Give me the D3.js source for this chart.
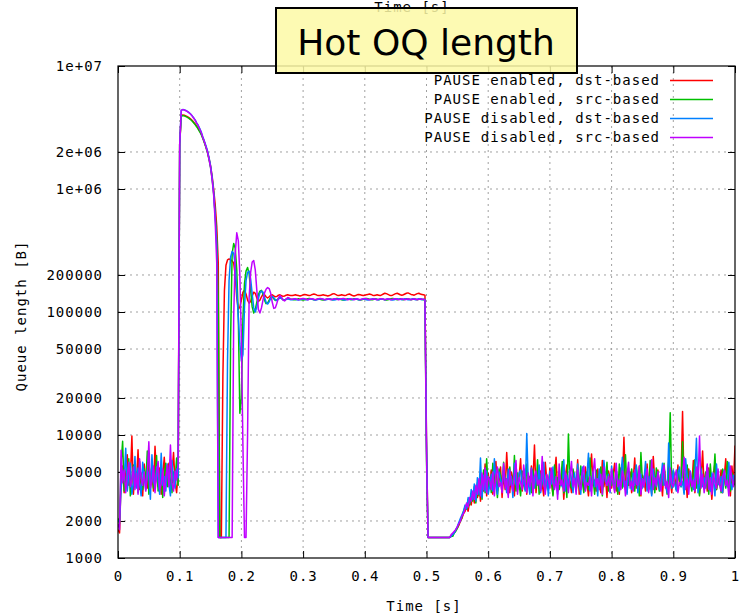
<!DOCTYPE html>
<html><head><meta charset="utf-8">
<script src="https://cdn.jsdelivr.net/npm/d3@7"></script>
<style>
body{margin:0;background:#fff}
text{font-family:"DejaVu Sans Mono","Liberation Mono",monospace;font-size:14px;letter-spacing:1px;fill:#000}
</style>
</head><body>
<svg id="c" width="739" height="615"></svg>
<script>
// ---------- data ----------
const seriesNames = ["PAUSE enabled, dst-based","PAUSE enabled, src-based","PAUSE disabled, dst-based","PAUSE disabled, src-based"];
const seriesColors = ["#ff0000","#00c000","#0080ff","#c000ff"];
const timeStep = 0.0025;            // seconds between samples
const valueUnit = 1000;             // values below are in kB
const xTicks = [0,0.1,0.2,0.3,0.4,0.5,0.6,0.7,0.8,0.9,1];
const xTickLabels = ["0","0.1","0.2","0.3","0.4","0.5","0.6","0.7","0.8","0.9","1"];
const yTicks = [1e7,2e6,1e6,2e5,1e5,5e4,2e4,1e4,5e3,2e3,1e3];
const yTickLabels = ["1e+07","2e+06","1e+06","200000","100000","50000","20000","10000","5000","2000","1000"];

// red: PAUSE enabled, dst-based
const redHead = [1.7,1.6,4.2,5.6,3.4,4.8,6.9,3.9,4.4,9.8,3.3,5.2,4.1,7.6,3.6,4.9,3.2,5.8,4.3,3.7,6.2,4.0,5.1,3.5,8.1,4.6,3.8,5.4,3.3,4.7,6.6,3.9,4.2,5.9,3.6,4.8,7.2,4.1,3.4,5.0];
const redBody = [2300,3950,4000,3980,3930,3870,3800,3720,3620,3500,3380,3250,3100,2950,2800,2600,2400,2200,2000,1780,1550,1280,1000,750,500,
 250,1.47,1.47,30,150,240,265,270,265,260,250,200,130,105,110,125,145,150,140,125,118,122,135,145,142,130,122,125,133,140,138,133,130,133,137,138,135,133,134,137,138,136,134,135,137,138,137,136];
const redPlateau = [136,137,138,137,136,135,136,138,139,138,137,136,137,139,140,139,137,136,136,137,138,137,136,135,136,138,140,141,139,137,136,137,138,137,136,137,139,140,138,136,135,136,138,139,138,137,136,137,138,139,140,139,137,136,137,138,137,136,138,140,142,141,139,137,136,137,139,141,142,140,138,137,138,140,142,143,141,139,138,137,139,141,142,140,139,138,137];
const redDrop = [9.5,1.47,1.47,1.47,1.47,1.47,1.47,1.47,1.47,1.47,1.47,1.47,1.47,1.47,1.47,1.47,
 1.5,1.55,1.6,1.7,1.75,1.85,2.0,2.1,2.3,2.4,2.6,2.4,2.9,2.7,3.4,2.8,3.7,3.1,4.2,2.9,4.6,3.5,5.8,3.2,4.9];
const redNoise = [3.8,5.2,3.3,4.6,6.1,3.5,4.2,5.5,3.1,4.8,3.6,7.2,4.0,3.4,5.0,4.4,3.2,5.8,3.9,4.5,6.4,3.5,4.1,5.3,3.3,4.7,3.8,5.6,4.2,8.3,
 3.4,4.9,3.7,5.1,4.0,3.2,6.0,4.3,3.6,5.4,4.1,3.3,4.8,6.6,3.5,4.4,3.9,5.2,3.0,4.6,5.7,3.7,4.2,3.4,5.0,4.5,3.8,6.3,3.3,4.0,
 4.9,3.6,5.5,4.1,3.2,4.7,7.0,3.9,4.3,3.5,5.3,4.0,3.4,6.2,3.8,4.6,3.1,5.1,4.4,3.7,4.8,5.9,3.5,4.2,3.3,5.4,4.0,9.6,3.6,4.5,
 3.9,5.0,3.4,4.3,6.5,3.7,4.1,5.6,3.2,4.7,4.4,3.5,5.8,3.8,4.9,3.3,6.7,4.2,3.6,5.2,3.9,4.6,3.2,5.5,4.0,3.7,6.0,4.3,3.4,5.1,
 4.5,3.6,5.7,3.9,4.2,15.5,3.5,4.8,3.1,5.3,4.1,3.8,6.2,3.4,4.6,5.0,3.3,4.4,7.4,3.7,4.9,3.5,5.4,4.2,3.0,4.7,5.9,3.6,4.3,3.9,
 5.2,3.4,4.5,6.4,3.8,4.1,3.2,5.6,4.0,8.2];

// green: PAUSE enabled, src-based
const greenHead = [2.1,1.9,5.8,8.9,3.5,4.6,3.9,6.4,3.2,4.4,5.7,3.8,4.9,3.4,6.1,4.2,3.6,5.3,4.0,7.4,3.3,4.5,5.6,3.7,4.3,6.8,3.5,4.1,5.2,3.1,4.7,5.9,3.8,4.4,6.3,3.4,5.0,4.2,6.5,3.9];
const greenBody = [2300,3900,3950,3930,3880,3820,3750,3670,3570,3460,3340,3210,3070,2920,2760,2580,2380,2180,1980,1750,1500,1220,920,620,400,
 120,1.47,1.47,1.47,1.47,1.47,1.47,1.47,60,300,360,330,220,90,15,20,90,170,215,230,205,150,110,98,105,120,138,148,150,140,125,117,118,125,132,133,128,124,125,129,131,129,126,125,127,129,128,127];
const greenPlateau = [127,126,126,127,128,127,126,125,126,127,128,129,128,127,126,126,127,128,127,126,125,126,127,128,128,127,126,127,128,129,128,127,126,125,126,127,128,127,126,127,128,128,127,126,125,126,127,128,129,128,127,126,126,127,128,127,126,127,128,127,126,125,126,127,128,129,128,127,126,127,128,127,126,127,128,128,127,126,127,128,127,126,127,128,127,126,127];
const greenDrop = [6.2,1.47,1.47,1.47,1.47,1.47,1.47,1.47,1.47,1.47,1.47,1.47,1.47,1.47,1.47,1.47,
 1.5,1.5,1.6,1.65,1.75,1.9,2.0,2.15,2.4,2.6,2.5,3.0,2.7,3.3,2.9,3.8,2.8,4.1,3.2,4.8,3.0,5.2,3.4,6.4,3.6];
const greenNoise = [4.5,3.4,5.9,3.8,4.2,3.1,5.3,4.7,3.6,6.0,3.9,4.4,3.3,5.5,4.1,3.7,6.8,3.5,4.9,4.0,3.2,5.1,4.3,3.6,5.8,3.9,4.6,3.4,5.2,4.1,
 3.7,6.3,3.3,4.8,4.0,5.4,3.5,4.2,3.8,5.0,4.4,3.2,5.7,3.9,4.5,3.6,4.1,6.1,3.4,4.7,3.1,10.2,4.0,3.7,5.3,4.3,3.5,4.9,3.8,5.6,
 4.2,3.4,4.6,5.0,3.6,6.5,3.9,4.4,3.3,5.2,4.0,3.8,5.5,3.2,4.7,4.1,6.0,3.5,4.3,3.9,5.1,3.6,4.5,3.3,5.8,4.2,3.7,4.9,6.9,3.4,
 4.6,3.9,5.3,4.0,3.5,5.6,4.3,3.2,7.2,4.1,3.8,5.0,4.4,3.6,6.2,3.9,4.7,3.4,5.4,4.2,3.5,4.8,3.9,5.9,4.1,3.3,4.6,15.2,3.7,5.1,
 4.0,3.6,5.2,4.3,3.8,8.8,3.4,4.5,5.7,3.9,4.2,3.5,4.9,6.3,3.7,4.4,3.2,5.5,4.0,3.8,5.0,4.6,3.3,5.8,3.9,4.3,7.0,3.6,4.8,4.1,
 3.4,5.3,4.5,3.7,6.1,4.0,3.5,4.9,4.2,3.9];

// blue: PAUSE disabled, dst-based
const blueHead = [2.0,2.0,3.6,5.1,4.3,7.8,3.5,4.7,5.9,3.3,4.0,6.7,3.7,5.4,4.1,3.2,6.0,4.5,3.6,5.2,4.8,3.0,6.9,4.2,3.8,5.5,4.4,3.3,7.1,3.9,4.6,3.5,5.8,4.0,3.2,6.2,4.3,3.7,5.3,4.5];
const blueBody = [2300,4350,4420,4400,4350,4280,4180,4080,3950,3800,3650,3450,3300,3100,2900,2650,2450,2250,2050,1800,1550,1250,950,600,350,
 1.47,1.47,1.47,1.47,1.47,1.47,40,180,280,310,300,240,150,90,55,40,45,110,180,210,215,185,140,108,100,110,128,143,148,145,132,120,116,121,129,134,131,126,124,127,130,129,126,125,127,128,127,126];
const bluePlateau = [126,127,127,126,125,126,127,128,127,126,126,127,128,127,126,125,126,127,128,128,127,126,126,127,128,127,126,125,126,127,128,127,127,126,125,126,127,128,127,126,127,128,127,126,126,127,128,127,126,125,126,127,128,128,127,126,126,127,128,127,126,127,128,127,126,125,126,127,128,127,127,126,127,128,127,126,126,127,128,127,126,127,128,127,126,127,126];
const blueDrop = [8.8,1.47,1.47,1.47,1.47,1.47,1.47,1.47,1.47,1.47,1.47,1.47,1.47,1.47,1.47,1.47,
 1.5,1.55,1.6,1.7,1.8,1.95,2.1,2.25,2.4,2.7,2.5,3.1,2.8,3.6,3.0,4.0,2.9,4.5,3.3,6.5,3.1,4.7,3.5,5.1,3.3];
const blueNoise = [3.9,4.8,3.5,6.4,4.1,3.3,5.0,4.4,3.7,5.6,4.2,3.4,5.3,3.9,4.6,3.1,5.9,4.0,3.6,4.9,5.2,3.8,4.3,3.5,10.3,4.0,3.3,5.4,4.5,3.7,
 4.8,3.9,5.7,3.4,4.2,6.0,3.6,4.6,3.2,5.1,4.0,5.5,3.7,4.4,3.3,5.0,4.1,3.8,6.3,3.5,4.7,3.9,5.2,4.3,3.4,4.9,3.6,5.8,4.0,3.3,
 5.5,4.2,3.7,4.6,7.1,3.5,4.1,5.0,3.8,4.4,3.2,5.3,4.0,3.6,6.2,4.5,3.9,4.8,3.4,5.6,4.1,3.7,5.1,4.3,3.5,4.7,6.6,3.8,4.2,3.3,
 5.4,4.0,3.6,4.9,3.9,5.7,3.4,4.4,4.8,3.7,4.3,6.1,3.5,4.6,4.0,3.2,5.3,4.2,3.8,5.0,3.6,4.5,5.9,3.9,4.1,3.4,8.6,4.4,3.7,5.2,
 4.0,3.5,4.8,5.5,3.8,4.2,3.3,6.4,4.6,3.9,5.1,4.3,3.6,4.7,9.4,3.4,4.0,5.3,3.8,4.5,3.7,5.6,4.1,3.5,4.9,4.4,3.2,5.8,4.0,3.9,
 4.6,3.4,5.2,4.3,3.8,6.0,4.1,3.6,4.7,4.2];

// purple: PAUSE disabled, src-based
const purpleHead = [1.9,1.7,7.5,4.1,5.2,3.4,4.6,6.0,3.8,4.3,5.5,3.6,4.9,3.3,6.4,4.4,3.9,5.0,3.5,4.7,8.8,3.7,4.2,5.6,3.4,4.8,6.1,3.6,4.0,5.3,3.2,4.5,5.7,3.8,8.3,4.1,3.5,5.1,4.3,6.0];
const purpleBody = [2300,4380,4420,4390,4330,4260,4170,4070,3930,3780,3630,3430,3270,3070,2870,2620,2420,2210,2000,1750,1500,1200,900,550,250,
 1.47,1.47,1.47,1.47,1.47,1.47,1.47,1.47,1.47,1.47,90,300,440,380,200,60,8,1.47,1.47,10,130,210,255,262,220,150,105,98,108,125,143,153,158,155,142,120,107,108,118,130,136,132,125,123,127,131,130,127];
const purplePlateau = [127,128,128,127,126,127,128,129,128,127,126,127,128,128,127,126,127,128,129,128,127,126,127,128,127,126,127,128,128,127,126,127,128,129,128,127,126,127,128,127,126,127,128,127,126,127,128,129,128,127,126,127,127,128,127,126,127,128,128,127,126,127,128,127,126,127,128,128,127,126,127,128,127,126,127,128,127,126,127,128,127,126,127,128,127,127,126];
const purpleDrop = [7.0,1.47,1.47,1.47,1.47,1.47,1.47,1.47,1.47,1.47,1.47,1.47,1.47,1.47,1.47,1.47,
 1.55,1.6,1.65,1.7,1.8,1.9,2.0,2.2,2.3,2.5,2.8,2.6,3.1,2.9,3.5,3.0,3.9,3.3,4.4,3.2,4.9,3.6,5.4,3.4,4.6];
const purpleNoise = [4.3,3.6,5.0,3.2,4.7,5.5,3.8,4.1,3.4,5.9,3.7,4.4,3.1,5.2,4.0,3.5,4.8,6.2,3.3,4.5,4.1,3.6,5.7,4.2,3.4,4.9,3.8,5.3,3.2,4.6,
 5.1,3.9,4.3,3.5,6.7,4.0,3.3,4.8,4.4,3.7,5.4,4.1,3.6,4.6,3.0,5.8,3.9,4.3,3.5,5.0,4.2,3.4,4.7,6.1,3.8,4.4,3.3,5.2,4.0,3.6,
 4.9,5.6,3.5,4.1,3.9,4.6,3.2,5.0,6.4,3.8,4.4,3.6,4.8,3.3,5.5,4.2,3.9,4.6,3.5,5.3,4.0,3.4,5.9,3.8,4.3,3.6,5.1,4.5,3.2,4.8,
 6.0,3.7,4.2,3.5,5.2,4.0,3.9,5.6,3.3,4.4,3.8,4.7,5.3,3.4,4.1,6.3,3.6,4.5,3.9,5.0,4.3,3.5,4.8,5.7,3.7,4.2,3.1,5.4,4.0,3.8,
 4.6,5.2,3.4,4.1,3.9,4.7,6.6,3.6,4.4,3.3,5.0,3.8,4.3,3.5,5.5,4.0,9.8,3.7,4.8,3.4,4.2,5.8,3.6,4.5,3.3,4.9,4.1,3.7,5.3,4.0,
 3.5,4.6,5.1,3.9,4.3,3.2,5.6,4.4,3.8,4.7];

const seriesValues = [
  [...redHead, ...redBody, ...redPlateau, ...redDrop, ...redNoise],
  [...greenHead, ...greenBody, ...greenPlateau, ...greenDrop, ...greenNoise],
  [...blueHead, ...blueBody, ...bluePlateau, ...blueDrop, ...blueNoise],
  [...purpleHead, ...purpleBody, ...purplePlateau, ...purpleDrop, ...purpleNoise]
];

// ---------- chart ----------
const svg = d3.select("#c");
const P = {l:118, r:735, t:66, b:558};
const x = d3.scaleLinear().domain([0,1]).range([P.l,P.r]);
const y = d3.scaleLog().domain([1e3,1e7]).range([P.b,P.t]);
const gridColor = "#a0a0a0";

// top label (x2 label, mostly hidden behind the title box)
svg.append("text").attr("x",412).attr("y",12).attr("text-anchor","middle").text("Time [s]");

// grid
svg.append("g").selectAll("line").data(xTicks.slice(1,-1)).join("line")
  .attr("x1",d=>x(d)).attr("x2",d=>x(d)).attr("y1",P.t).attr("y2",P.b)
  .attr("stroke",gridColor).attr("stroke-width",1).attr("stroke-dasharray","2,4");
svg.append("g").selectAll("line").data(yTicks.slice(1,-1)).join("line")
  .attr("x1",P.l).attr("x2",P.r).attr("y1",d=>y(d)).attr("y2",d=>y(d))
  .attr("stroke",gridColor).attr("stroke-width",1).attr("stroke-dasharray","2,4");

// axes
function styleAxis(g){ g.select(".domain").remove(); g.selectAll(".tick line").attr("stroke","#000"); g.selectAll("text").attr("fill","#000"); g.attr("font-family",null).attr("font-size",null); }
svg.append("g").attr("transform",`translate(0,${P.b})`)
  .call(d3.axisBottom(x).tickValues(xTicks).tickFormat((d,i)=>xTickLabels[i]).tickSizeInner(-7).tickSizeOuter(0).tickPadding(13))
  .call(styleAxis);
svg.append("g").attr("transform",`translate(0,${P.t})`)
  .call(d3.axisTop(x).tickValues(xTicks).tickFormat("").tickSizeInner(-7).tickSizeOuter(0))
  .call(styleAxis);
svg.append("g").attr("transform",`translate(${P.l},0)`)
  .call(d3.axisLeft(y).tickValues(yTicks).tickFormat((d,i)=>yTickLabels[i]).tickSizeInner(-7).tickSizeOuter(0).tickPadding(15))
  .call(styleAxis);
svg.append("g").attr("transform",`translate(${P.r},0)`)
  .call(d3.axisRight(y).tickValues(yTicks).tickFormat("").tickSizeInner(-7).tickSizeOuter(0))
  .call(styleAxis);

// data lines
svg.append("clipPath").attr("id","pa").append("rect")
  .attr("x",P.l).attr("y",P.t).attr("width",P.r-P.l).attr("height",P.b-P.t);
const line = d3.line().x((d,i)=>x(i*timeStep)).y(d=>y(d*valueUnit));
svg.append("g").attr("clip-path","url(#pa)").selectAll("path").data(seriesValues).join("path")
  .attr("d",line).attr("fill","none").attr("stroke",(d,i)=>seriesColors[i])
  .attr("stroke-width",1.5).attr("stroke-linejoin","round");

// border
svg.append("rect").attr("x",P.l).attr("y",P.t).attr("width",P.r-P.l).attr("height",P.b-P.t)
  .attr("fill","none").attr("stroke","#000").attr("stroke-width",1.2);

// legend
const lg = svg.append("g").selectAll("g").data(seriesNames).join("g")
  .attr("transform",(d,i)=>`translate(0,${80.5+i*19})`);
lg.append("text").attr("x",660).attr("y",0).attr("dy","0.35em").attr("text-anchor","end").text(d=>d);
lg.append("line").attr("x1",670).attr("x2",713).attr("y1",0).attr("y2",0)
  .attr("stroke",(d,i)=>seriesColors[i]).attr("stroke-width",1.3);

// axis titles
svg.append("text").attr("x",424).attr("y",606).attr("dy","0.35em").attr("text-anchor","middle").text("Time [s]");
svg.append("text").attr("transform","translate(21,316) rotate(-90)").attr("dy","0.35em").attr("text-anchor","middle").text("Queue length [B]");

// title box
svg.append("rect").attr("x",276).attr("y",8).attr("width",301).attr("height",65)
  .attr("fill","#fdf9a6").attr("fill-opacity",0.85).attr("stroke","#000").attr("stroke-width",2);
svg.append("text").attr("x",426).attr("y",55).attr("text-anchor","middle")
  .style("font-family","'DejaVu Sans',sans-serif").style("font-size","36px").style("letter-spacing","0px")
  .text("Hot OQ length");
</script>
</body></html>
